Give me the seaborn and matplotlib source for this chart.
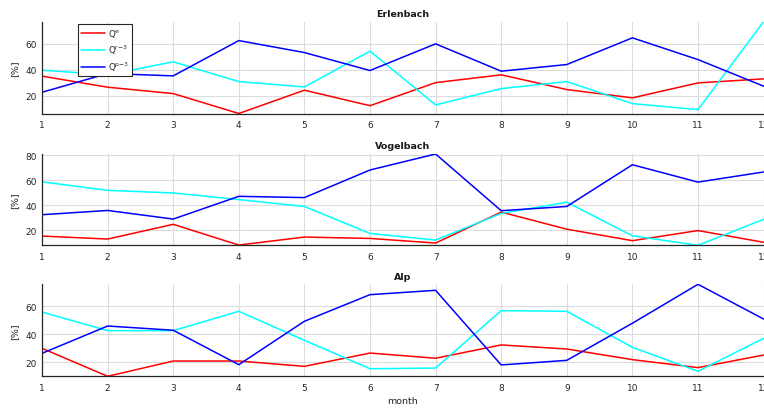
import numpy as np
import pandas as pd
import matplotlib
matplotlib.use("Agg")
import matplotlib.pyplot as plt
import seaborn as sns

months = list(range(1, 13))
series_names = [r"Q$^\mathregular{e}$", r"Q$^\mathregular{r{-}3}$", r"Q$^\mathregular{p{-}3}$"]
colors = ["#ff0000", "#00ffff", "#0000ff"]
sites = ["Erlenbach", "Vogelbach", "Alp"]

erlenbach_e = [35.2, 26.7, 21.8, 6.5, 24.4, 12.5, 30.2, 36.2, 24.9, 18.5, 30.0, 33.1]
erlenbach_r = [39.8, 36.2, 46.2, 31.0, 26.9, 54.4, 13.1, 25.6, 31.0, 14.1, 9.5, 77.0]
erlenbach_p = [22.8, 37.2, 35.4, 62.5, 53.3, 39.5, 60.0, 39.0, 44.1, 64.6, 47.9, 27.5]

vogelbach_e = [15.3, 12.9, 24.7, 8.1, 14.5, 13.4, 9.7, 34.5, 20.8, 11.6, 19.7, 10.3]
vogelbach_r = [58.7, 51.9, 49.8, 44.5, 39.0, 17.4, 12.1, 33.4, 42.4, 15.5, 7.9, 28.7]
vogelbach_p = [32.4, 35.8, 28.9, 47.1, 46.1, 68.2, 81.0, 35.6, 39.0, 72.4, 58.5, 66.6]

alp_e = [30.0, 10.0, 20.9, 20.9, 17.1, 26.6, 22.9, 32.4, 29.5, 21.9, 16.2, 25.2]
alp_r = [55.9, 42.6, 42.6, 56.4, 35.7, 15.4, 15.9, 56.9, 56.4, 30.7, 13.6, 37.1]
alp_p = [26.4, 45.9, 42.9, 18.3, 49.3, 68.3, 71.4, 18.1, 21.4, 47.9, 75.7, 50.9]

site_data = {
    "Erlenbach": [erlenbach_e, erlenbach_r, erlenbach_p],
    "Vogelbach": [vogelbach_e, vogelbach_r, vogelbach_p],
    "Alp": [alp_e, alp_r, alp_p],
}
yticks_list = [[20, 40, 60], [20, 40, 60, 80], [20, 40, 60]]

rows = []
for site in sites:
    for name, vals in zip(series_names, site_data[site]):
        for m, v in zip(months, vals):
            rows.append({"site": site, "series": name, "month": m, "value": v})
df = pd.DataFrame(rows)

sns.set_style("white")
plt.rcParams["font.family"] = ["DejaVu Sans"]

fig = plt.figure(figsize=(7.64, 4.10), dpi=100)
H = 410.0
W = 764.0
panels = [(22.7, 114.5), (155.0, 246.3), (285.3, 377.3)]
left = 42.0 / W
right = 763.6 / W

palette = dict(zip(series_names, colors))
for i, site in enumerate(sites):
    top_px, bot_px = panels[i]
    ax = fig.add_axes([left, 1 - bot_px / H, right - left, (bot_px - top_px) / H])
    sub = df[df["site"] == site]
    sns.lineplot(data=sub, x="month", y="value", hue="series", palette=palette,
                 hue_order=series_names, linewidth=1.1, ax=ax, legend=(i == 0))
    ax.set_xlim(1, 12)
    ax.set_ylim(sub["value"].min(), sub["value"].max())
    ax.set_xticks(months)
    ax.set_yticks(yticks_list[i])
    ax.tick_params(axis="both", direction="in", length=4, width=0.8, color="#262626",
                   labelsize=6.5, labelcolor="#262626", pad=4)
    ax.tick_params(axis="x", pad=5)
    ax.grid(True, color="#dcdcdc", linewidth=0.8)
    ax.set_axisbelow(True)
    for s in ["top", "right"]:
        ax.spines[s].set_visible(False)
    for s in ["left", "bottom"]:
        ax.spines[s].set_color("#262626")
        ax.spines[s].set_linewidth(0.9)
    ax.set_title(site, fontsize=6.8, fontweight="bold", color="#1a1a1a", pad=4)
    ax.set_ylabel("[%]", fontsize=6.8, color="#262626", labelpad=4)
    if i == 2:
        ax.set_xlabel("month", fontsize=6.8, color="#262626", labelpad=3)
    else:
        ax.set_xlabel("")
    if i == 0:
        leg = ax.legend(loc="upper left", bbox_to_anchor=(0.0495, 0.975), fontsize=6.3,
                        frameon=True, fancybox=False, edgecolor="#262626",
                        handlelength=2.8, borderpad=0.35, labelspacing=0.4,
                        handletextpad=0.3, borderaxespad=0, title=None)
        leg.get_frame().set_linewidth(0.8)
        leg.get_frame().set_alpha(1)

fig.savefig("out.png", dpi=100)
